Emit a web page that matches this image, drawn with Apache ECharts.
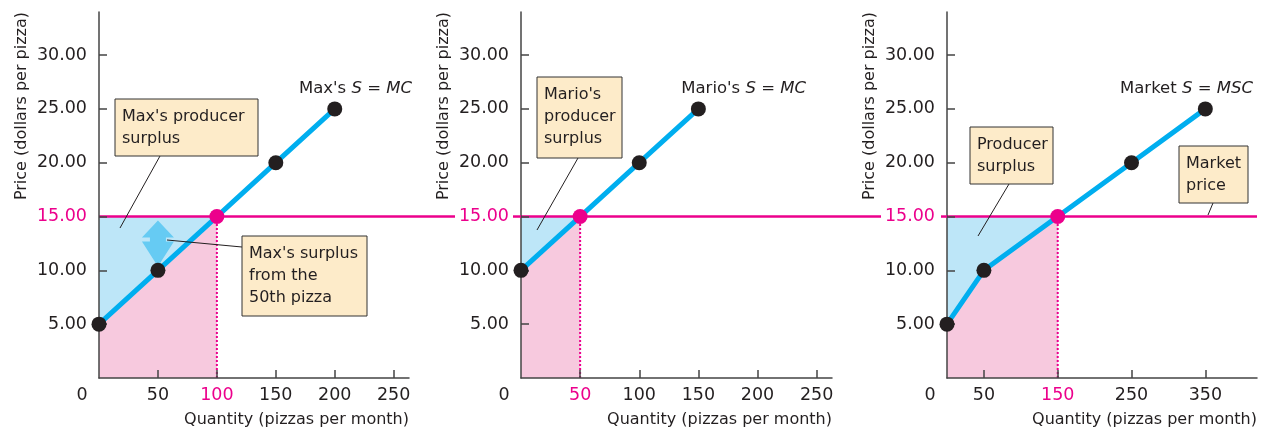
<!DOCTYPE html>
<html><head><meta charset="utf-8">
<script src="https://cdn.jsdelivr.net/npm/echarts@6/dist/echarts.min.js"></script>
<style>html,body{margin:0;padding:0;background:#fff}#c{width:1263px;height:430px}</style>
</head><body><div id="c"></div>
<script>
// ---- data ----
const priceTicks = [5, 10, 15, 20, 25, 30];
const marketPrice = 15;
const maxQty = [0, 50, 100, 150, 200];
const maxMC = [5, 10, 15, 20, 25];
const marioQty = [0, 50, 100, 150];
const marioMC = [10, 15, 20, 25];
const marketQty = [0, 50, 150, 250, 350];
const marketMSC = [5, 10, 15, 20, 25];
const qtyTicksMax = [50, 100, 150, 200, 250];
const qtyTicksMario = [50, 100, 150, 200, 250];
const qtyTicksMarket = [50, 150, 250, 350];
const eqQty = [100, 50, 150];
const marginalQty = 50;      // Max's 50th pizza
const marginalCost = 10;     // its marginal cost
const curveNames = [["Max's ", "S", " = ", "MC"], ["Mario's ", "S", " = ", "MC"], ["Market ", "S", " = ", "MSC"]];

// ---- style ----
const FONT = "'DejaVu Sans', sans-serif";
const TXT = '#231f20';
const PINK = '#ec008c';
const BLUE = '#00aeef';
const LBLUE = '#bde6f8';
const LPINK = '#f7c9de';
const BOX = '#fdebc9';
const AX = '#444';

const panels = [
  {qty: maxQty, cost: maxMC, eq: eqQty[0], xMax: 263, ticks: qtyTicksMax, left: 99, width: 310},
  {qty: marioQty, cost: marioMC, eq: eqQty[1], xMax: 263, ticks: qtyTicksMario, left: 521, width: 311},
  {qty: marketQty, cost: marketMSC, eq: eqQty[2], xMax: 420, ticks: qtyTicksMarket, left: 947, width: 310}
];
const TOP = 12, H = 366;

const grid = [], xAxis = [], yAxis = [], series = [];
panels.forEach((p, i) => {
  grid.push({left: p.left, top: TOP, width: p.width, height: H});
  xAxis.push({
    type: 'value', gridIndex: i, min: 0, max: p.xMax, z: 5,
    axisLine: {show: true, lineStyle: {color: AX, width: 1.5}},
    axisTick: {show: true, inside: true, length: 8, lineStyle: {color: AX, width: 1.5}, customValues: p.ticks},
    axisLabel: {customValues: p.ticks, margin: 8, fontSize: 17.5, fontFamily: FONT,
      formatter: v => String(v),
      color: v => Number(v) === p.eq ? PINK : TXT},
    splitLine: {show: false}
  });
  yAxis.push({
    type: 'value', gridIndex: i, min: 0, max: 34, z: 5,
    axisLine: {show: true, lineStyle: {color: AX, width: 1.5}},
    axisTick: {show: true, inside: true, length: 8, lineStyle: {color: AX, width: 1.5}, customValues: priceTicks},
    axisLabel: {customValues: priceTicks, margin: 12, fontSize: 17.5, fontFamily: FONT,
      formatter: v => Number(v).toFixed(2),
      color: v => Number(v) === marketPrice ? PINK : TXT},
    splitLine: {show: false}
  });
  const supply = p.qty.map((q, k) => [q, p.cost[k]]);
  const under = supply.filter(pt => pt[0] <= p.eq);
  series.push({
    type: 'line', xAxisIndex: i, yAxisIndex: i, data: [[0, marketPrice], [p.eq, marketPrice]],
    symbol: 'none', lineStyle: {width: 0}, areaStyle: {color: LBLUE, opacity: 1}, z: 1, silent: true
  });
  series.push({
    type: 'line', xAxisIndex: i, yAxisIndex: i, data: under,
    symbol: 'none', lineStyle: {width: 0}, areaStyle: {color: LPINK, opacity: 1}, z: 2, silent: true
  });
  series.push({
    type: 'line', xAxisIndex: i, yAxisIndex: i, data: [[0, marketPrice], [p.xMax, marketPrice]],
    symbol: 'none', lineStyle: {color: PINK, width: 2.5}, z: 3, silent: true
  });
  series.push({
    type: 'line', xAxisIndex: i, yAxisIndex: i, data: [[p.eq, 0], [p.eq, marketPrice]],
    symbol: 'none', lineStyle: {color: PINK, width: 2, type: [2, 2]}, z: 3, silent: true
  });
  if (i === 0) {
    series.push({
      type: 'scatter', xAxisIndex: i, yAxisIndex: i,
      data: [[marginalQty, (marginalCost + marketPrice) / 2]],
      symbol: 'path://M16 0 L32 17 L24 17 L24 21 L32 21 L16 46 L0 21 L8 21 L8 17 L0 17 Z',
      symbolSize: [32, 46], itemStyle: {color: '#66cbf3', opacity: 1}, z: 4, silent: true
    });
  }
  series.push({
    type: 'line', xAxisIndex: i, yAxisIndex: i, data: supply,
    symbol: 'none', lineStyle: {color: BLUE, width: 5}, z: 6, silent: true
  });
  series.push({
    type: 'scatter', xAxisIndex: i, yAxisIndex: i,
    data: supply.map(pt => ({value: pt, itemStyle: {color: pt[0] === p.eq ? PINK : TXT, opacity: 1}})),
    symbolSize: 15, itemStyle: {opacity: 1}, z: 10, silent: true
  });
});

const chart = echarts.init(document.getElementById('c'), null, {renderer: 'canvas'});
chart.setOption({animation: false, grid, xAxis, yAxis, series});

// ---- annotations ----
const g = [];
const yP = chart.convertToPixel({yAxisIndex: 0}, marketPrice);
function seg(x1, y1, x2, y2, color, w) {
  g.push({type: 'line', shape: {x1, y1, x2, y2}, style: {stroke: color, lineWidth: w}, z: 20, silent: true});
}
// price line continues between panels
const g1r = panels[0].left + panels[0].width, g2l = panels[1].left, g2r = panels[1].left + panels[1].width, g3l = panels[2].left;
seg(g1r, yP, g2l - 66, yP, PINK, 2.5);
seg(g2l - 8, yP, g2l, yP, PINK, 2.5);
seg(g2r, yP, g3l - 66, yP, PINK, 2.5);
seg(g3l - 6, yP, g3l, yP, PINK, 2.5);

panels.forEach((p, i) => {
  const right = p.left + p.width;
  g.push({type: 'text', x: right, y: 420, silent: true, z: 20,
    style: {text: 'Quantity (pizzas per month)', font: '16px ' + FONT, fill: TXT, align: 'right', verticalAlign: 'middle'}});
  g.push({type: 'text', x: p.left - 77, y: TOP, rotation: Math.PI / 2, silent: true, z: 20,
    style: {text: 'Price (dollars per pizza)', font: '16px ' + FONT, fill: TXT, align: 'right', verticalAlign: 'middle'}});
  g.push({type: 'text', x: p.left - 17, y: 395, silent: true, z: 20,
    style: {text: '0', font: '17.5px ' + FONT, fill: TXT, align: 'center', verticalAlign: 'middle'}});
  const n = curveNames[i];
  g.push({type: 'text', x: [412, 806, 1253][i], y: 89, silent: true, z: 20,
    style: {text: '{a|' + n[0] + '}{b|' + n[1] + '}{a|' + n[2] + '}{b|' + n[3] + '}',
      align: 'right', verticalAlign: 'middle',
      rich: {a: {fontSize: 16.5, fontFamily: FONT, fill: TXT, color: TXT},
             b: {fontSize: 16.5, fontFamily: FONT, fontStyle: 'italic', fill: TXT, color: TXT}}}});
});

const boxes = [
  {x: 115, y: 99, w: 143, h: 57, t: "Max's producer\nsurplus", l: [160, 156, 120, 228]},
  {x: 242, y: 236, w: 125, h: 80, t: "Max's surplus\nfrom the\n50th pizza", l: [167, 240, 242, 247]},
  {x: 537, y: 77, w: 85, h: 81, t: "Mario's\nproducer\nsurplus", l: [578, 158, 537, 230]},
  {x: 970, y: 127, w: 83, h: 57, t: "Producer\nsurplus", l: [1009, 184, 978, 236]},
  {x: 1179, y: 146, w: 69, h: 57, t: "Market\nprice", l: [1213, 203, 1208, 215]}
];
boxes.forEach(b => {
  seg(b.l[0], b.l[1], b.l[2], b.l[3], TXT, 1);
  g.push({type: 'rect', shape: {x: b.x, y: b.y, width: b.w, height: b.h}, silent: true, z: 21,
    style: {fill: BOX, stroke: '#333', lineWidth: 1}});
  g.push({type: 'text', x: b.x + 7, y: b.y + 7, silent: true, z: 22,
    style: {text: b.t, font: '16px ' + FONT, fill: TXT, lineHeight: 22, align: 'left', verticalAlign: 'top'}});
});
chart.setOption({graphic: g});
</script></body></html>
